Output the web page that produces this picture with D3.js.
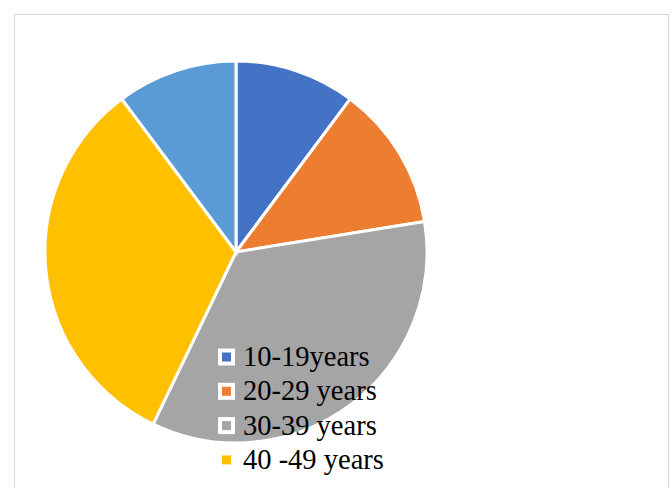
<!DOCTYPE html>
<html lang="en">
<head>
<meta charset="UTF-8">
<title>Age groups</title>
<script src="https://cdn.jsdelivr.net/npm/d3@7"></script>
<style>
    body{ margin:0; background:#fff; }
    svg{ display:block; }
</style>
</head>
<body>
<div id="root"></div>
<script>
    // data
    let categories = ["10-19years", "20-29 years", "30-39 years", "40 -49 years", "50-59 years"]
    let values = [5, 6, 17, 16, 5]
    let colors = ["#4472C4", "#ED7D31", "#A5A5A5", "#FFC000", "#5B9BD5"]
    // only the first four entries fit inside the visible legend
    let legendShown = categories.slice(0, 4)

    let width = 672, height = 488, cx = 236, cy = 252, r = 191

    let svg = d3.select("#root").append("svg").attr("width", width).attr("height", height)

    // chart frame
    svg.append("rect").attr("x", 14.5).attr("y", 14.5).attr("width", 654).attr("height", 500)
        .attr("fill", "#fff").attr("stroke", "#d9d9d9").attr("stroke-width", 1)

    let pie = d3.pie().sort(null).value(d => d)
    let arc = d3.arc().innerRadius(0).outerRadius(r)
    let color = d3.scaleOrdinal().domain(categories).range(colors)

    svg.append("g").attr("transform", "translate(" + cx + "," + cy + ")")
        .selectAll("path").data(pie(values)).enter().append("path")
        .attr("d", arc)
        .attr("fill", (d, i) => color(categories[i]))
        .attr("stroke", "#fff").attr("stroke-width", 3)

    // legend
    let legend = svg.append("g").attr("transform", "translate(218,357)")
    let rows = legend.selectAll("g").data(legendShown).enter().append("g")
        .attr("transform", (d, i) => "translate(0," + i * 34.3 + ")")
    rows.append("rect").attr("x", 2).attr("y", -6.5).attr("width", 13).attr("height", 13)
        .attr("fill", d => color(d)).attr("stroke", "#fff").attr("stroke-width", 4)
    rows.append("text").attr("x", 25).attr("y", 9)
        .style("font-family", "'Liberation Serif','Times New Roman',serif")
        .style("font-size", "28.5px").attr("fill", "#000")
        .text(d => d)
</script>
</body>
</html>
